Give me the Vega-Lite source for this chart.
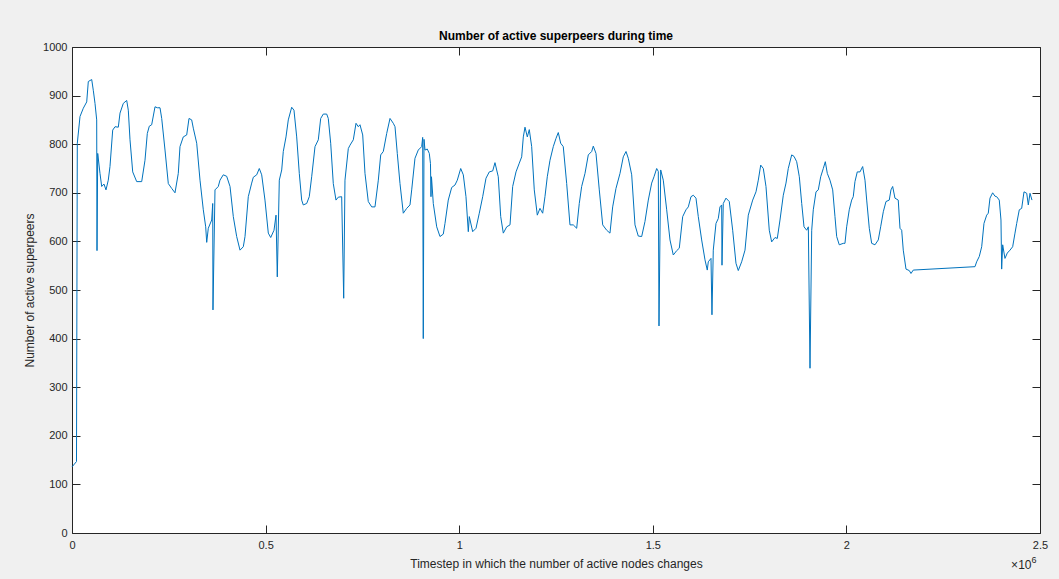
{
  "$schema": "https://vega.github.io/schema/vega-lite/v6.json",
  "autosize": {"type": "none"},
  "padding": {"left": 72, "top": 47, "right": 19, "bottom": 46},
  "width": 968,
  "height": 486,
  "background": "#f0f0f0",
  "view": {"fill": "white", "stroke": "#262626", "strokeWidth": 1},
  "title": {"text": "Number of active superpeers during time", "font": "Liberation Sans", "fontSize": 12, "fontWeight": "bold", "color": "#000000", "offset": -2},
  "config": {
    "axis": {"grid": false, "domain": false, "tickColor": "#262626", "tickSize": -8, "labelFont": "Liberation Sans", "labelFontSize": 11, "labelColor": "#262626", "titleFont": "Liberation Sans", "titleFontSize": 12, "titleFontWeight": "normal", "titleColor": "#262626"}
  },
  "datasets": {
    "series": [
{"t":0,"v":136},{"t":11600,"v":147},{"t":13700,"v":802},{"t":20700,"v":857},{"t":29200,"v":874},{"t":38000,"v":887},{"t":42100,"v":929},{"t":50900,"v":933},{"t":55000,"v":911},{"t":59400,"v":884},{"t":63800,"v":850},{"t":64600,"v":581},{"t":66400,"v":781},{"t":72300,"v":740},{"t":76700,"v":713},{"t":82600,"v":718},{"t":87800,"v":706},{"t":93700,"v":726},{"t":98100,"v":754},{"t":105100,"v":829},{"t":111100,"v":836},{"t":119600,"v":835},{"t":124000,"v":864},{"t":132500,"v":884},{"t":141300,"v":890},{"t":145400,"v":870},{"t":149800,"v":809},{"t":156800,"v":743},{"t":167100,"v":723},{"t":180000,"v":723},{"t":188500,"v":767},{"t":194500,"v":822},{"t":199600,"v":837},{"t":205800,"v":840},{"t":214400,"v":877},{"t":220300,"v":875},{"t":227300,"v":875},{"t":231700,"v":853},{"t":240200,"v":788},{"t":248700,"v":719},{"t":257500,"v":709},{"t":266000,"v":700},{"t":274500,"v":740},{"t":278900,"v":795},{"t":287400,"v":815},{"t":296200,"v":819},{"t":302200,"v":853},{"t":309100,"v":850},{"t":313300,"v":833},{"t":322100,"v":802},{"t":330600,"v":726},{"t":339100,"v":665},{"t":345300,"v":630},{"t":347900,"v":598},{"t":352000,"v":627},{"t":360800,"v":644},{"t":363400,"v":678},{"t":364100,"v":459},{"t":369300,"v":706},{"t":377800,"v":713},{"t":382200,"v":726},{"t":390700,"v":737},{"t":399500,"v":734},{"t":408100,"v":713},{"t":416600,"v":651},{"t":425300,"v":610},{"t":433900,"v":582},{"t":442400,"v":589},{"t":446800,"v":610},{"t":455300,"v":692},{"t":464100,"v":720},{"t":468300,"v":732},{"t":477000,"v":737},{"t":483700,"v":750},{"t":489900,"v":737},{"t":498400,"v":685},{"t":507000,"v":617},{"t":513200,"v":608},{"t":521700,"v":623},{"t":526900,"v":654},{"t":530200,"v":527},{"t":535400,"v":726},{"t":541600,"v":747},{"t":545700,"v":785},{"t":552700,"v":815},{"t":558600,"v":850},{"t":567400,"v":876},{"t":573300,"v":870},{"t":580300,"v":815},{"t":587000,"v":740},{"t":593200,"v":685},{"t":597300,"v":675},{"t":606100,"v":678},{"t":612800,"v":692},{"t":619000,"v":733},{"t":627600,"v":795},{"t":636100,"v":809},{"t":642300,"v":853},{"t":649000,"v":862},{"t":657800,"v":862},{"t":661900,"v":853},{"t":668100,"v":802},{"t":674800,"v":719},{"t":681800,"v":685},{"t":687700,"v":691},{"t":696500,"v":692},{"t":701700,"v":483},{"t":705000,"v":726},{"t":713600,"v":791},{"t":718000,"v":798},{"t":726500,"v":809},{"t":733500,"v":843},{"t":739400,"v":836},{"t":743800,"v":840},{"t":750800,"v":819},{"t":756700,"v":740},{"t":765200,"v":682},{"t":774000,"v":671},{"t":782500,"v":671},{"t":791100,"v":726},{"t":797300,"v":778},{"t":804000,"v":785},{"t":812700,"v":822},{"t":821300,"v":853},{"t":829800,"v":843},{"t":834200,"v":836},{"t":840100,"v":781},{"t":847100,"v":719},{"t":855600,"v":658},{"t":864400,"v":668},{"t":872900,"v":675},{"t":877300,"v":706},{"t":885800,"v":771},{"t":894300,"v":788},{"t":903100,"v":795},{"t":905700,"v":814},{"t":907200,"v":400},{"t":909100,"v":810},{"t":911700,"v":788},{"t":917600,"v":790},{"t":922800,"v":781},{"t":925800,"v":760},{"t":927100,"v":692},{"t":928400,"v":733},{"t":933100,"v":678},{"t":941900,"v":630},{"t":950400,"v":610},{"t":958900,"v":615},{"t":963300,"v":637},{"t":971800,"v":685},{"t":980600,"v":711},{"t":989100,"v":716},{"t":995100,"v":726},{"t":1003900,"v":750},{"t":1010600,"v":737},{"t":1017500,"v":692},{"t":1023500,"v":620},{"t":1026100,"v":651},{"t":1034800,"v":620},{"t":1043400,"v":627},{"t":1051900,"v":658},{"t":1060700,"v":692},{"t":1069200,"v":730},{"t":1077700,"v":743},{"t":1086500,"v":745},{"t":1092400,"v":762},{"t":1100900,"v":733},{"t":1107200,"v":651},{"t":1113900,"v":617},{"t":1122700,"v":630},{"t":1131200,"v":634},{"t":1138100,"v":713},{"t":1146700,"v":743},{"t":1155200,"v":761},{"t":1161400,"v":774},{"t":1165600,"v":815},{"t":1169900,"v":835},{"t":1175900,"v":815},{"t":1181000,"v":830},{"t":1187200,"v":795},{"t":1193900,"v":706},{"t":1201700,"v":654},{"t":1208600,"v":668},{"t":1215600,"v":658},{"t":1221500,"v":692},{"t":1227500,"v":733},{"t":1234500,"v":767},{"t":1243000,"v":795},{"t":1250000,"v":812},{"t":1255900,"v":824},{"t":1262100,"v":802},{"t":1268800,"v":795},{"t":1277600,"v":719},{"t":1286100,"v":634},{"t":1294600,"v":634},{"t":1303400,"v":627},{"t":1310100,"v":678},{"t":1316300,"v":713},{"t":1324900,"v":740},{"t":1333400,"v":778},{"t":1342200,"v":785},{"t":1346300,"v":796},{"t":1353300,"v":781},{"t":1361800,"v":706},{"t":1370600,"v":634},{"t":1380900,"v":623},{"t":1389400,"v":617},{"t":1396400,"v":671},{"t":1404900,"v":709},{"t":1415300,"v":740},{"t":1423800,"v":774},{"t":1430800,"v":785},{"t":1436700,"v":771},{"t":1445500,"v":737},{"t":1454000,"v":634},{"t":1462500,"v":611},{"t":1471300,"v":610},{"t":1479800,"v":641},{"t":1488400,"v":685},{"t":1497100,"v":720},{"t":1503100,"v":733},{"t":1510000,"v":750},{"t":1514200,"v":744},{"t":1516000,"v":426},{"t":1520400,"v":747},{"t":1527100,"v":726},{"t":1535900,"v":665},{"t":1544400,"v":603},{"t":1552900,"v":572},{"t":1561700,"v":581},{"t":1568400,"v":586},{"t":1577200,"v":651},{"t":1585700,"v":665},{"t":1591700,"v":671},{"t":1598600,"v":692},{"t":1604600,"v":695},{"t":1611500,"v":689},{"t":1617500,"v":651},{"t":1626200,"v":603},{"t":1634800,"v":562},{"t":1640700,"v":541},{"t":1643300,"v":558},{"t":1650300,"v":565},{"t":1652800,"v":449},{"t":1656200,"v":582},{"t":1663200,"v":637},{"t":1669100,"v":647},{"t":1673500,"v":671},{"t":1677900,"v":675},{"t":1678700,"v":551},{"t":1682000,"v":678},{"t":1689000,"v":689},{"t":1697500,"v":682},{"t":1706300,"v":623},{"t":1714800,"v":555},{"t":1720800,"v":540},{"t":1729500,"v":558},{"t":1738100,"v":582},{"t":1746600,"v":654},{"t":1758000,"v":685},{"t":1766500,"v":702},{"t":1772500,"v":726},{"t":1778700,"v":757},{"t":1785400,"v":750},{"t":1792300,"v":713},{"t":1800800,"v":623},{"t":1807000,"v":599},{"t":1815600,"v":608},{"t":1821500,"v":606},{"t":1828500,"v":644},{"t":1837000,"v":695},{"t":1844000,"v":720},{"t":1849900,"v":750},{"t":1858700,"v":778},{"t":1864700,"v":775},{"t":1871600,"v":764},{"t":1878400,"v":733},{"t":1884600,"v":678},{"t":1890500,"v":630},{"t":1897500,"v":623},{"t":1901700,"v":630},{"t":1906000,"v":339},{"t":1910400,"v":623},{"t":1914500,"v":665},{"t":1921500,"v":702},{"t":1927400,"v":706},{"t":1933600,"v":733},{"t":1940300,"v":750},{"t":1945500,"v":764},{"t":1950700,"v":740},{"t":1957600,"v":726},{"t":1964600,"v":706},{"t":1970500,"v":651},{"t":1974900,"v":610},{"t":1981600,"v":593},{"t":1991900,"v":596},{"t":1996300,"v":596},{"t":2000700,"v":630},{"t":2007400,"v":665},{"t":2013600,"v":685},{"t":2017700,"v":692},{"t":2022100,"v":723},{"t":2028100,"v":743},{"t":2035100,"v":743},{"t":2042000,"v":754},{"t":2048000,"v":726},{"t":2052400,"v":685},{"t":2059100,"v":627},{"t":2065300,"v":596},{"t":2073800,"v":593},{"t":2082300,"v":603},{"t":2088500,"v":630},{"t":2095300,"v":661},{"t":2102200,"v":682},{"t":2110700,"v":685},{"t":2115100,"v":706},{"t":2119500,"v":713},{"t":2125400,"v":689},{"t":2133900,"v":685},{"t":2138400,"v":627},{"t":2142800,"v":623},{"t":2146900,"v":582},{"t":2153900,"v":543},{"t":2162400,"v":540},{"t":2166800,"v":534},{"t":2172700,"v":541},{"t":2332100,"v":548},{"t":2336400,"v":558},{"t":2343200,"v":569},{"t":2349400,"v":589},{"t":2355300,"v":637},{"t":2362300,"v":654},{"t":2366400,"v":658},{"t":2370800,"v":689},{"t":2377700,"v":700},{"t":2383700,"v":693},{"t":2388100,"v":692},{"t":2394800,"v":685},{"t":2399200,"v":644},{"t":2401000,"v":543},{"t":2403600,"v":593},{"t":2409500,"v":565},{"t":2415500,"v":576},{"t":2422500,"v":582},{"t":2429400,"v":589},{"t":2435400,"v":617},{"t":2439800,"v":637},{"t":2446500,"v":665},{"t":2452700,"v":668},{"t":2458700,"v":702},{"t":2465700,"v":699},{"t":2469800,"v":675},{"t":2474200,"v":699},{"t":2479300,"v":685}
    ],
    "note": [{"t": 2478000, "v": 0}]
  },
  "layer": [
    {
      "data": {"name": "series"},
      "mark": {"type": "line", "color": "#0072BD", "strokeWidth": 1},
      "encoding": {
        "x": {"field": "t", "type": "quantitative", "scale": {"domain": [0, 2500000], "nice": false, "zero": false},
              "axis": {"orient": "bottom", "values": [0, 500000, 1000000, 1500000, 2000000, 2500000], "labelExpr": "datum.value / 1000000 + ''", "labelPadding": 14, "title": "Timestep in which the number of active nodes changes", "titlePadding": 8, "labelFlush": false}},
        "y": {"field": "v", "type": "quantitative", "scale": {"domain": [0, 1000], "nice": false},
              "axis": {"orient": "left", "values": [0,100,200,300,400,500,600,700,800,900,1000], "format": "d", "labelPadding": 13, "title": "Number of active superpeers", "titlePadding": 6, "labelFlush": false}}
      }
    },
    {
      "data": {"name": "series"},
      "mark": {"type": "line", "opacity": 0},
      "encoding": {
        "x": {"field": "t", "type": "quantitative", "axis": {"orient": "top", "values": [0, 500000, 1000000, 1500000, 2000000, 2500000], "labels": false, "title": null}},
        "y": {"field": "v", "type": "quantitative", "axis": {"orient": "right", "values": [0,100,200,300,400,500,600,700,800,900,1000], "labels": false, "title": null}}
      }
    },
    {
      "data": {"name": "note"},
      "mark": {"type": "text", "text": "×10", "font": "Liberation Sans", "fontSize": 12, "color": "#262626", "align": "right", "baseline": "middle", "dy": 32},
      "encoding": {
        "x": {"field": "t", "type": "quantitative", "axis": null},
        "y": {"field": "v", "type": "quantitative", "axis": null}
      }
    },
    {
      "data": {"name": "note"},
      "mark": {"type": "text", "text": "6", "font": "Liberation Sans", "fontSize": 9, "color": "#262626", "align": "left", "baseline": "middle", "dy": 27},
      "encoding": {
        "x": {"field": "t", "type": "quantitative", "axis": null},
        "y": {"field": "v", "type": "quantitative", "axis": null}
      }
    }
  ],
  "resolve": {"axis": {"x": "independent", "y": "independent"}}
}
